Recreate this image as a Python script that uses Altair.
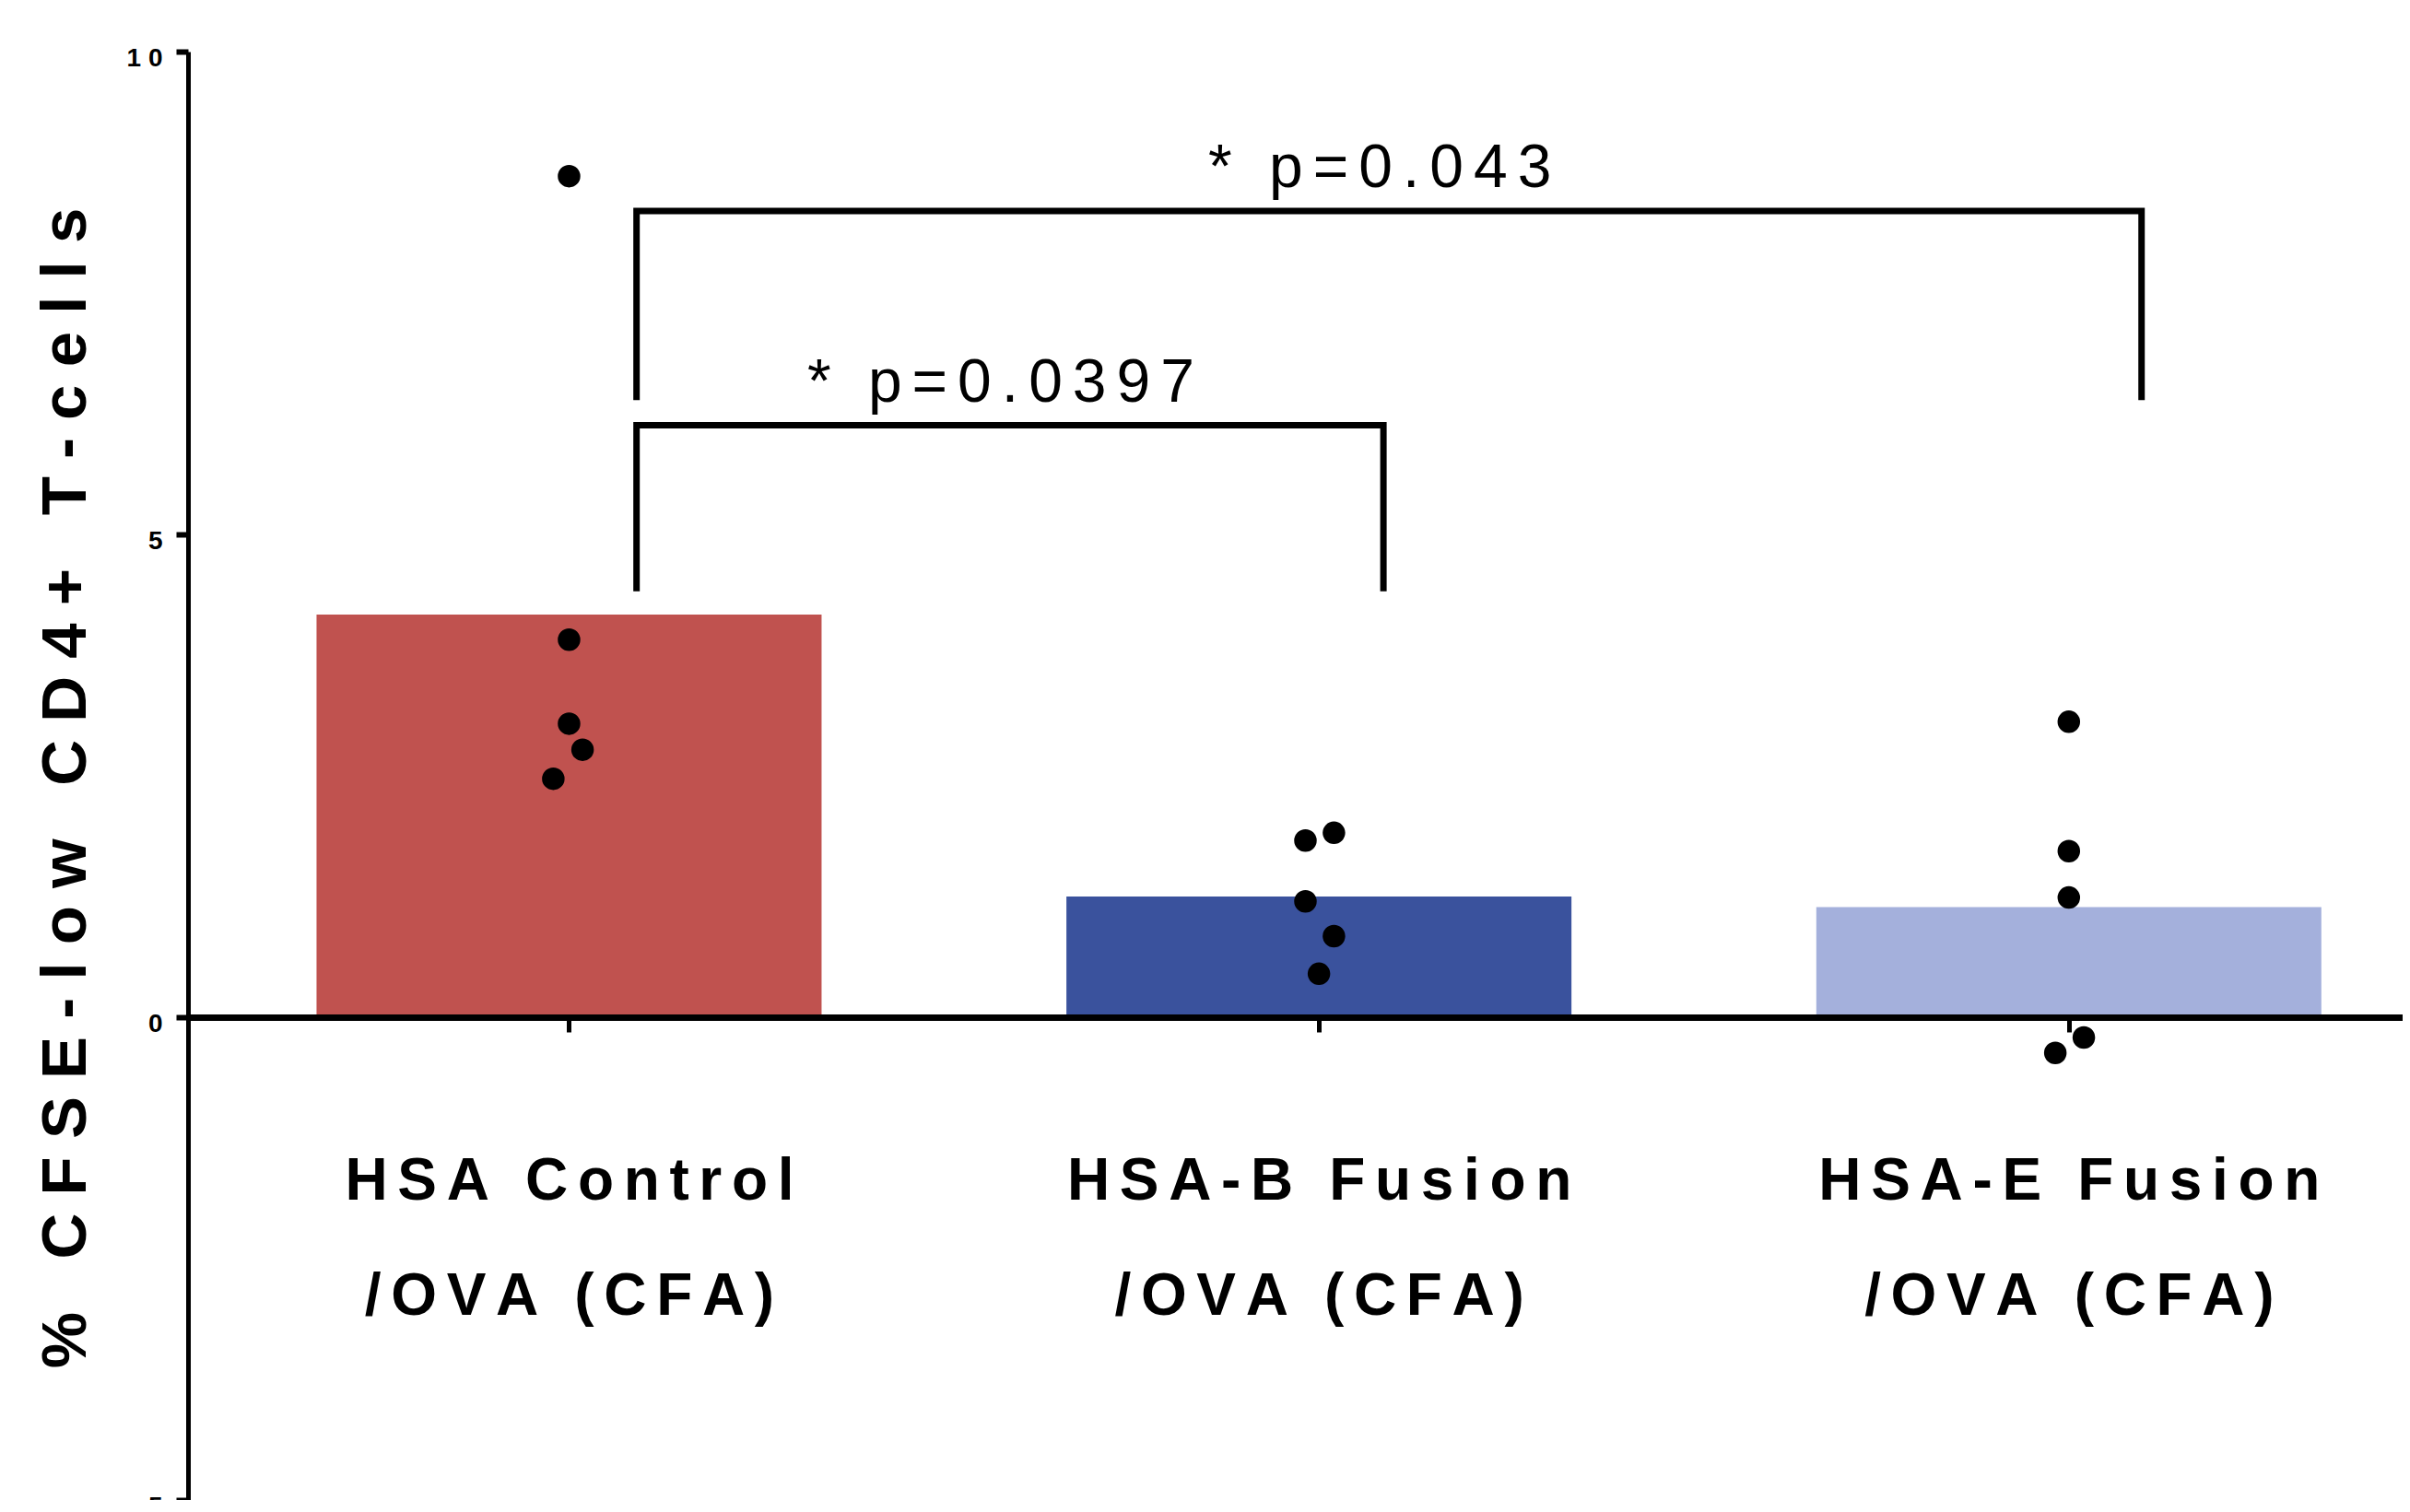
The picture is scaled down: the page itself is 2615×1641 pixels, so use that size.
import json
import altair as alt
import pandas as pd

# ---------------- data ----------------
categories = ["HSA Control", "HSA-B Fusion", "HSA-E Fusion"]
subtitles = ["/OVA (CFA)", "/OVA (CFA)", "/OVA (CFA)"]
bar_colors = ["#C0524F", "#3A529D", "#A4B0DC"]
bar_means = [4.17, 1.25, 1.14]

control_pts = [8.71, 3.91, 3.04, 2.77, 2.47]
control_jit = [0.0, 0.0, 0.0, 0.018, -0.021]
hsab_pts = [1.91, 1.83, 1.20, 0.84, 0.45]
hsab_jit = [0.02, -0.018, -0.018, 0.02, 0.0]
hsae_pts = [3.06, 1.72, 1.24, -0.21, -0.37]
hsae_jit = [0.0, 0.0, 0.0, 0.02, -0.018]

p_labels = ["* p=0.0397", "* p=0.043"]
bracket_left = [0.09, 0.09]
bracket_right = [1.086, 2.097]
bracket_top = [6.13, 8.35]
bracket_bottom = [4.41, 6.39]

y_title = "% CFSE-low CD4+ T-cells"
y_ticks = [-5, 0, 5, 10]

# ---------------- helpers ----------------
NB = "\u00a0"      # no-break space (word gap)
SIX = "\u2006"     # six-per-em space (letter spacing)


def spaced(s, gap=NB):
    return gap.join(NB if c == " " else c for c in s)


bars = pd.DataFrame({
    "idx": list(range(len(categories))),
    "category": categories,
    "mean": bar_means,
})

pt_rows = []
for i, (vals, jit) in enumerate([(control_pts, control_jit),
                                 (hsab_pts, hsab_jit),
                                 (hsae_pts, hsae_jit)]):
    for v, j in zip(vals, jit):
        pt_rows.append({"category": categories[i], "xpos": i + j, "value": v})
points = pd.DataFrame(pt_rows)

br_rows = []
for b in range(len(p_labels)):
    corners = [(bracket_left[b], bracket_bottom[b]), (bracket_left[b], bracket_top[b]),
               (bracket_right[b], bracket_top[b]), (bracket_right[b], bracket_bottom[b])]
    for k, (bx, by) in enumerate(corners):
        br_rows.append({"bracket": b, "order": k, "bx": bx, "by": by})
brackets = pd.DataFrame(br_rows)

labels_df = pd.DataFrame({
    "text": [spaced(t, SIX) for t in p_labels],
    "lx": [(l + r) / 2 for l, r in zip(bracket_left, bracket_right)],
    "ly": bracket_top,
})

label_lines = [[spaced(c, SIX), spaced(s, SIX)] for c, s in zip(categories, subtitles)]
label_expr = json.dumps(label_lines, ensure_ascii=False) + "[datum.value]"

# ---------------- scales / axes ----------------
PLOT_W, PLOT_H = 2403, 1572
xscale = alt.Scale(domain=[-0.502, 2.439], nice=False, zero=False)
yscale = alt.Scale(domain=[-5, 10], nice=False, zero=False)
zero_offset = -PLOT_H * 5 / 15   # move the bottom axis up to y = 0

xaxis = alt.Axis(
    title=None, values=[0, 1, 2], labelExpr=label_expr, offset=zero_offset,
    domainColor="black", domainWidth=7, tickColor="black", tickWidth=5, tickSize=16,
    labelFont="Liberation Sans", labelFontWeight="bold", labelFontSize=64,
    labelColor="black", labelPadding=130, labelLineHeight=125, labelBaseline="top",
    labelAlign="center", labelLimit=2000, grid=False, zindex=1,
    labelOverlap=False, labelFlush=False,
)
yaxis = alt.Axis(
    title=spaced(y_title), values=y_ticks,
    labelExpr="join(split(datum.label, ''), '\u00a0')",
    domainColor="black", domainWidth=5, tickColor="black", tickWidth=6, tickSize=13,
    labelFont="Liberation Sans", labelFontWeight="bold", labelFontSize=28,
    labelColor="black", labelPadding=15, labelOffset=7, labelBaseline="middle",
    titleFont="Liberation Sans", titleFontWeight="bold", titleFontSize=69,
    titleColor="black", titleAngle=270, titleX=-133, titleY=799,
    titleAlign="center", titleBaseline="middle", grid=False, zindex=1,
    labelOverlap=False, labelFlush=False, titleLimit=3000,
)

bar_layer = alt.Chart(bars).mark_bar(size=548).encode(
    x=alt.X("idx:Q", scale=xscale, axis=xaxis),
    y=alt.Y("mean:Q", scale=yscale, axis=yaxis),
    color=alt.Color("category:N", scale=alt.Scale(domain=categories, range=bar_colors),
                    legend=None),
)

point_layer = alt.Chart(points).mark_circle(size=600, color="black", opacity=1).encode(
    x=alt.X("xpos:Q", scale=xscale, axis=xaxis),
    y=alt.Y("value:Q", scale=yscale, axis=yaxis),
)

bracket_layer = alt.Chart(brackets).mark_line(
    color="black", strokeWidth=7, strokeJoin="miter", strokeCap="butt"
).encode(
    x=alt.X("bx:Q", scale=xscale, axis=xaxis),
    y=alt.Y("by:Q", scale=yscale, axis=yaxis),
    detail="bracket:N",
    order="order:Q",
)

text_layer = alt.Chart(labels_df).mark_text(
    font="Liberation Sans", fontSize=66, color="black",
    align="center", baseline="alphabetic", dy=-26, dx=-10,
).encode(
    x=alt.X("lx:Q", scale=xscale, axis=xaxis),
    y=alt.Y("ly:Q", scale=yscale, axis=yaxis),
    text="text:N",
)

chart = alt.layer(bar_layer, point_layer, bracket_layer, text_layer).properties(
    width=PLOT_W, height=PLOT_H,
    autosize=alt.AutoSizeParams(type="none"),
    padding={"left": 196, "top": 48, "right": 0, "bottom": 0},
    background="white",
).configure_view(stroke=None)

chart.save("out.html", embed_options={"renderer": "svg", "actions": False})
